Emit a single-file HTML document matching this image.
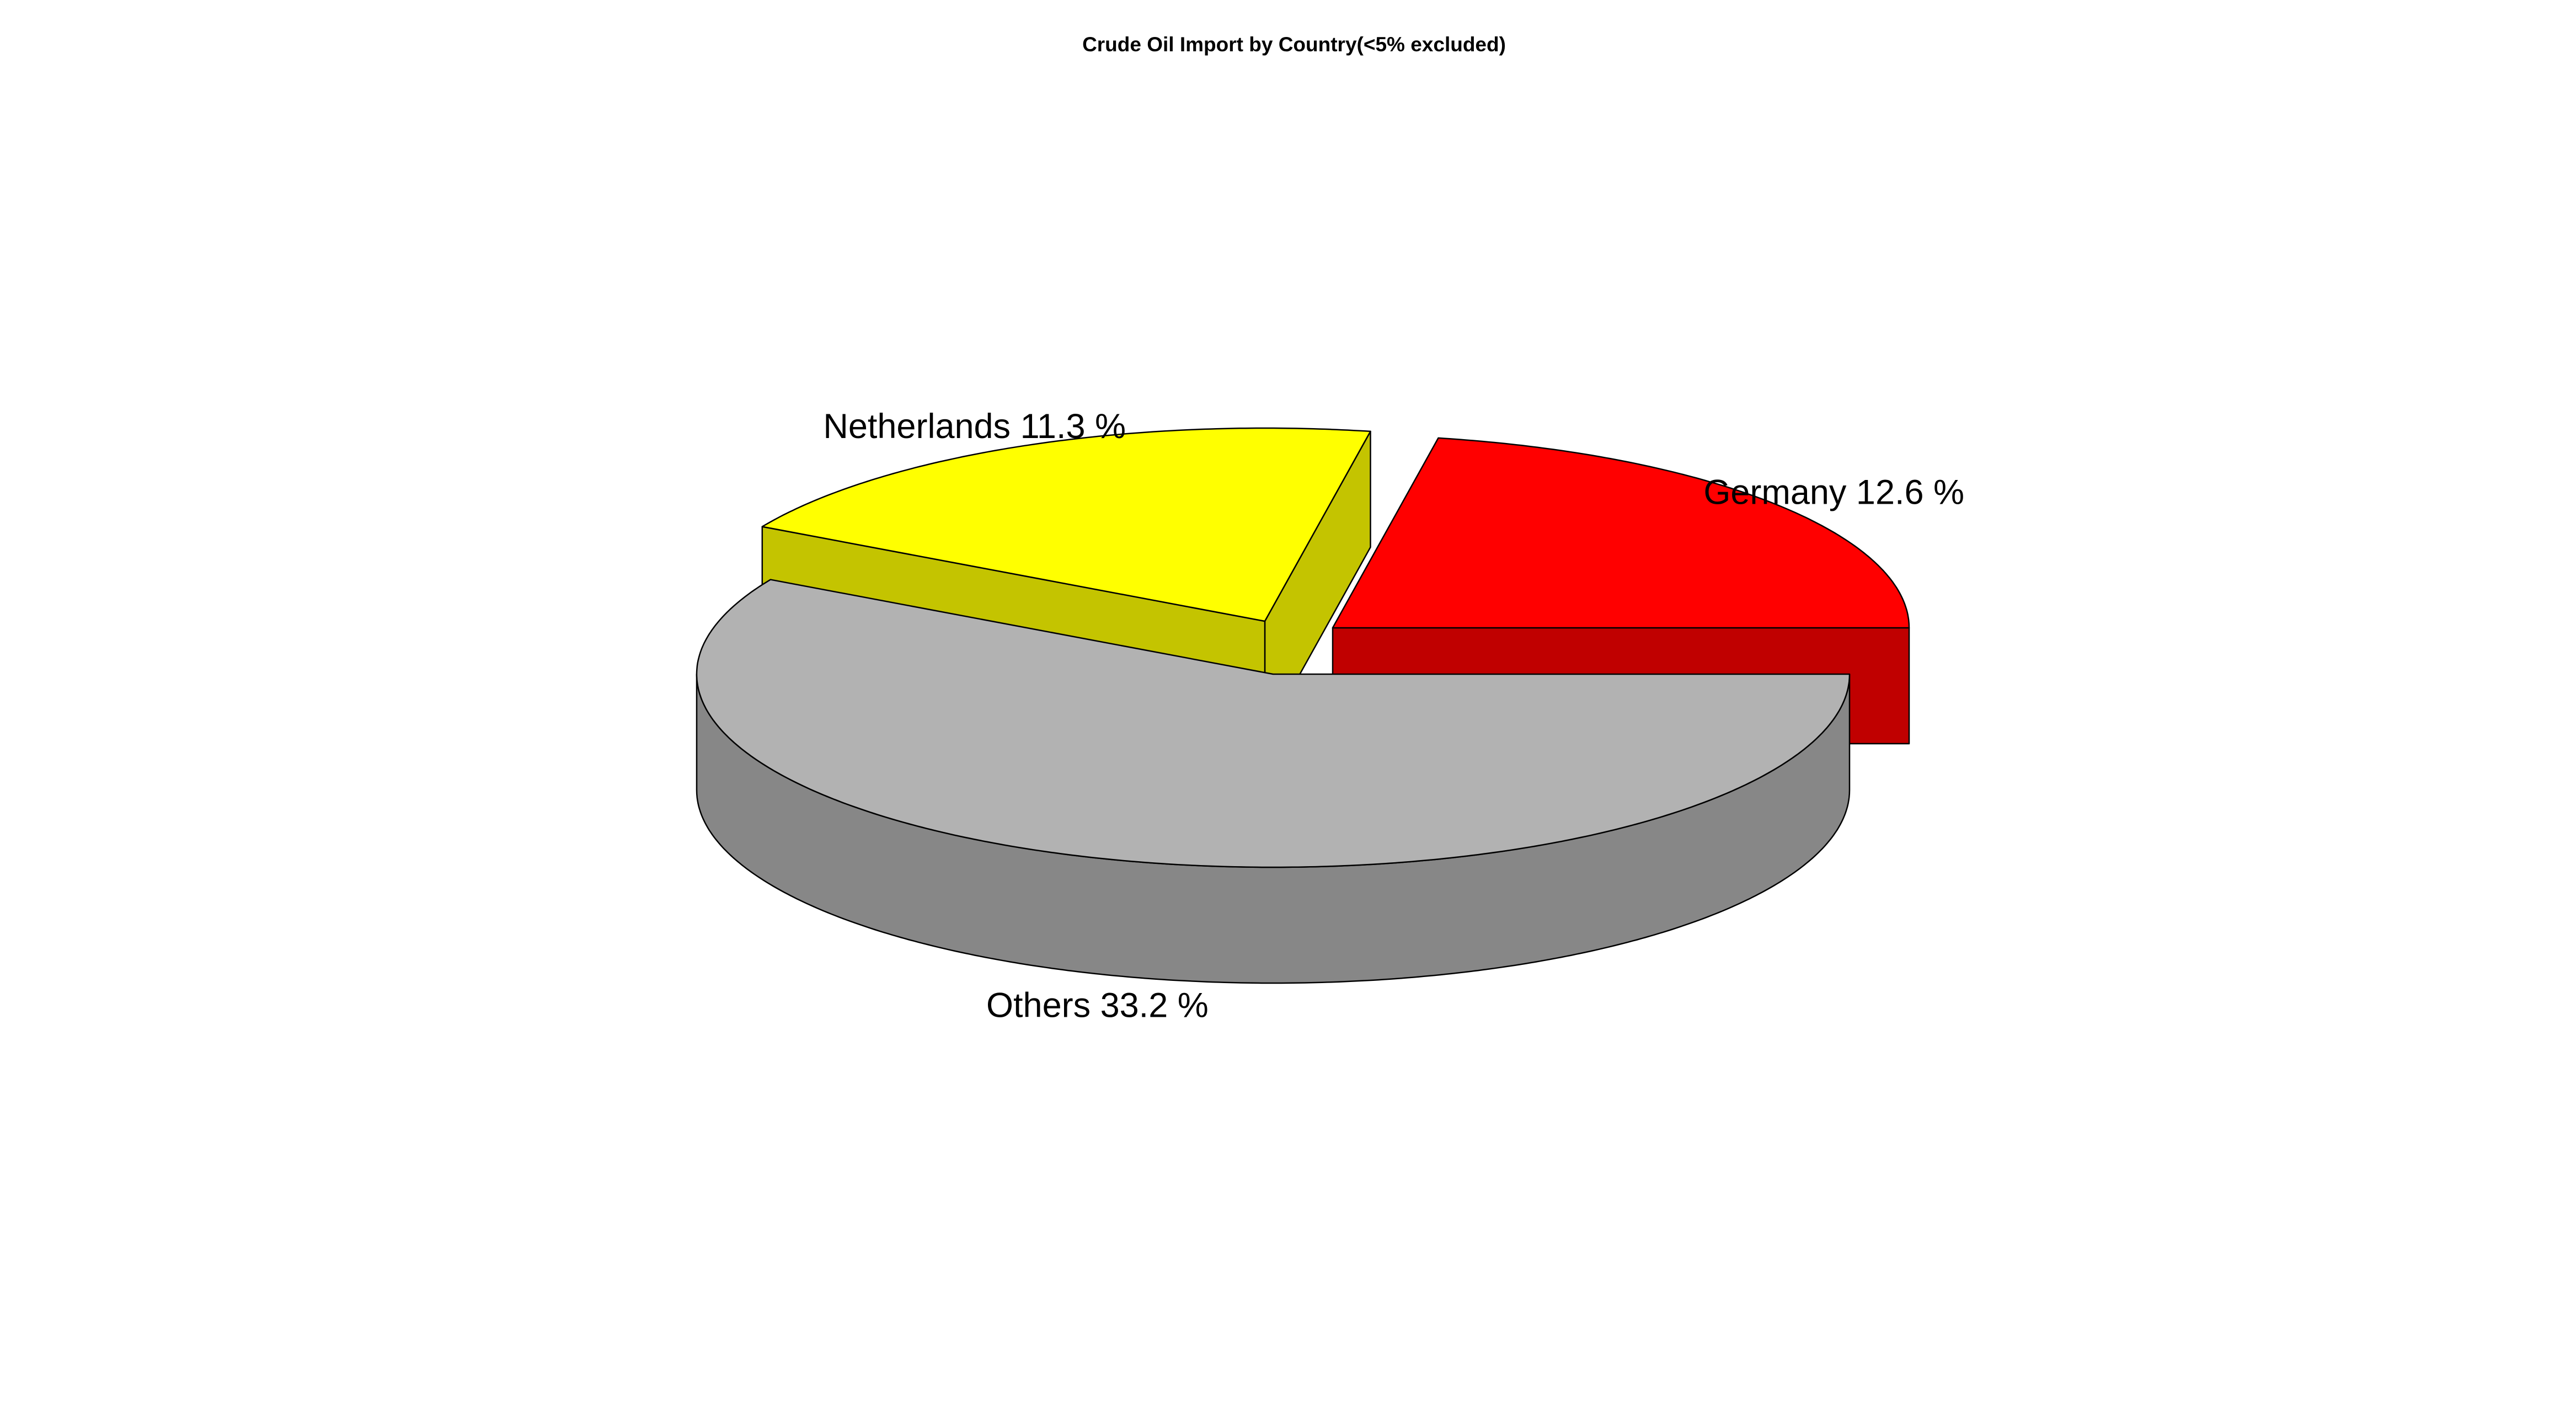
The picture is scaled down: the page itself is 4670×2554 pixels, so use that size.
<!DOCTYPE html>
<html><head><meta charset="utf-8"><style>
html,body{margin:0;padding:0;background:#fff}
svg{display:block}
text{font-family:"Liberation Sans",Arial,sans-serif}
</style></head><body>
<svg id="chart" width="4670" height="2554" viewBox="0 0 4670 2554" xmlns="http://www.w3.org/2000/svg">
<rect width="4670" height="2554" fill="#fff"/>
<text x="2346" y="93" font-size="37" font-weight="bold" text-anchor="middle">Crude Oil Import by Country(&lt;5% excluded)</text>
<g id="slices"></g>
<g id="labels"></g>
</svg>
<script>
const categories = ["Germany", "Netherlands", "Others"];
const values = [12.6, 11.3, 33.2];
const topColors = ["#ff0000", "#ffff00", "#b2b2b2"];
const sideColors = ["#c00000", "#c4c400", "#878787"];
const exploded = [true, true, false];

const NS = "http://www.w3.org/2000/svg";
const cx = 2308, cy = 1222, rx = 1045, ry = 350, depth = 210;
const explodeOffsets = [[108, -84], [-15, -96], [0, 0]];
const total = values.reduce((a, b) => a + b, 0);

function pt(a, o, dz) {
  return [cx + o[0] + rx * Math.cos(a), cy + o[1] - ry * Math.sin(a) + dz];
}
function arcPts(a0, a1, o, dz) {
  const n = Math.max(2, Math.ceil(Math.abs(a1 - a0) / 0.01));
  const r = [];
  for (let i = 0; i <= n; i++) r.push(pt(a0 + (a1 - a0) * i / n, o, dz));
  return r;
}
function poly(points, fill, name) {
  const p = document.createElementNS(NS, "path");
  p.setAttribute("d", "M" + points.map(q => q[0].toFixed(1) + "," + q[1].toFixed(1)).join("L") + "Z");
  p.setAttribute("fill", fill);
  p.setAttribute("stroke", "#000");
  p.setAttribute("stroke-width", "2.5");
  p.setAttribute("stroke-linejoin", "round");
  
  
  return p;
}

const gS = document.getElementById("slices");
const gL = document.getElementById("labels");
const angles = [];
let acc = 0;
values.forEach(v => { const a0 = acc / total * 2 * Math.PI; acc += v; angles.push([a0, acc / total * 2 * Math.PI]); });

const order = [1, 0, 2];
order.forEach(i => {
  const [a0, a1] = angles[i];
  const o = exploded[i] ? explodeOffsets[i] : [0, 0];
  const c = [cx + o[0], cy + o[1]];
  const key = categories[i].toLowerCase();
  const g = document.createElementNS(NS, "g");
  
  
  // visible cut faces only
  const faces = [];
  if (Math.cos(a0) > 1e-6) faces.push(a0);
  if (Math.cos(a1) < -1e-6) faces.push(a1);
  faces.forEach((a, k) => {
    const p1 = pt(a, o, 0);
    g.appendChild(poly([c, p1, [p1[0], p1[1] + depth], [c[0], c[1] + depth]], sideColors[i], 'cut-face-' + key + '-' + k));
  });
  const w0 = Math.max(a0, Math.PI), w1 = Math.min(a1, 2 * Math.PI);
  if (w1 > w0) {
    const top = arcPts(w0, w1, o, 0);
    const bot = arcPts(w1, w0, o, depth);
    g.appendChild(poly(top.concat(bot), sideColors[i], 'outer-wall-' + key));
  }
  g.appendChild(poly([c].concat(arcPts(a0, a1, o, 0)), topColors[i], 'top-' + key));
  gS.appendChild(g);

  const mid = (a0 + a1) / 2;
  const lx = cx + 1.25 * rx * Math.cos(mid) + 12;
  let ly = cy - 1.28 * ry * Math.sin(mid);
  if (Math.sin(mid) < 0) ly += depth;
  const t = document.createElementNS(NS, "text");
  t.setAttribute("x", lx.toFixed(1));
  t.setAttribute("y", (ly - 22).toFixed(1));
  t.setAttribute("font-size", "63");
  t.setAttribute("text-anchor", "middle");
  t.textContent = categories[i] + " " + values[i] + " %";
  
  
  gL.appendChild(t);
});
</script>
</body></html>
